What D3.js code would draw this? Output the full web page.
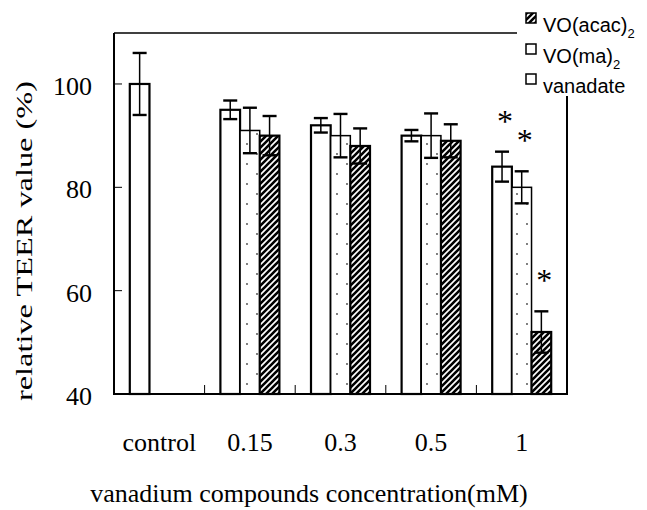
<!DOCTYPE html>
<html>
<head>
<meta charset="utf-8">
<script src="https://cdn.jsdelivr.net/npm/d3@7"></script>
<style>
  body { margin: 0; background: #fff; }
  svg { display: block; }
</style>
</head>
<body>
<svg id="chart" width="647" height="510"></svg>
<script>
// data
const categories = ['control', '0.15', '0.3', '0.5', '1'];
const seriesNames = ['vanadate', 'VO(ma)2', 'VO(acac)2'];
const vanadate = [100, 95, 92, 90, 84];
const vanadateErr = [6, 1.8, 1.4, 1.1, 2.9];
const voMa = [null, 91, 90, 90, 80];
const voMaErr = [null, 4.4, 4.2, 4.3, 3.1];
const voAcac = [null, 90, 88, 89, 52];
const voAcacErr = [null, 3.8, 3.4, 3.2, 4];
const significant = [['1', 'vanadate'], ['1', 'VO(ma)2'], ['1', 'VO(acac)2']];
const yTicks = [40, 60, 80, 100];
const legendOrder = ['VO(acac)2', 'VO(ma)2', 'vanadate'];

const svg = d3.select('#chart');
const plot = { left: 114, right: 567, top: 33, bottom: 394 };
const serif = "'Liberation Serif', 'Times New Roman', serif";
const sans = "'Liberation Sans', Arial, sans-serif";

const values = { vanadate, 'VO(ma)2': voMa, 'VO(acac)2': voAcac };
const errors = { vanadate: vanadateErr, 'VO(ma)2': voMaErr, 'VO(acac)2': voAcacErr };

const rows = [];
seriesNames.forEach((s) => {
  categories.forEach((c, i) => {
    if (values[s][i] != null) rows.push({ cat: c, series: s, value: values[s][i], err: errors[s][i] });
  });
});

const x = d3.scaleBand().domain(categories).range([plot.left, plot.right]);
const groupW = 59;
const pad = (x.bandwidth() - groupW) / 2;
const xs = d3.scaleBand().domain(seriesNames).range([pad, pad + groupW]);
const y = d3.scaleLinear().domain([40, 110]).range([plot.bottom, 32.3]);

// patterns
const defs = svg.append('defs');
const hatch = defs.append('pattern')
  .attr('id', 'hatch')
  .attr('patternUnits', 'userSpaceOnUse')
  .attr('width', 6)
  .attr('height', 6);
hatch.append('rect').attr('width', 6).attr('height', 6).attr('fill', '#fff');
hatch.append('path')
  .attr('d', 'M-1,1 l2,-2 M0,6 l6,-6 M5,7 l2,-2')
  .attr('stroke', '#000')
  .attr('stroke-width', 2.6);

const dots = defs.append('pattern')
  .attr('id', 'dots')
  .attr('patternUnits', 'userSpaceOnUse')
  .attr('width', 20)
  .attr('height', 20);
dots.append('rect').attr('width', 20).attr('height', 20).attr('fill', '#fff');
dots.append('circle').attr('cx', 7).attr('cy', 4).attr('r', 0.9).attr('fill', '#444');
dots.append('circle').attr('cx', 17).attr('cy', 14).attr('r', 0.9).attr('fill', '#444');

const fills = { vanadate: '#fff', 'VO(ma)2': 'url(#dots)', 'VO(acac)2': 'url(#hatch)' };

// bars
svg.append('g')
  .selectAll('rect')
  .data(rows)
  .join('rect')
  .attr('x', (d) => x(d.cat) + xs(d.series))
  .attr('y', (d) => y(d.value))
  .attr('width', xs.bandwidth())
  .attr('height', (d) => y(40) - y(d.value))
  .attr('fill', (d) => fills[d.series])
  .attr('stroke', '#000')
  .attr('stroke-width', (d) => (d.series === 'VO(ma)2' ? 1.5 : 2.2));

// error bars
const eb = svg.append('g').attr('stroke', '#000');
const cx = (d) => x(d.cat) + xs(d.series) + xs.bandwidth() / 2;
eb.selectAll('line.v')
  .data(rows)
  .join('line')
  .attr('class', 'v')
  .attr('x1', cx)
  .attr('x2', cx)
  .attr('y1', (d) => y(d.value + d.err))
  .attr('y2', (d) => y(d.value - d.err))
  .attr('stroke-width', 1.5);
['top', 'bot'].forEach((k) => {
  eb.selectAll(`line.${k}`)
    .data(rows)
    .join('line')
    .attr('class', k)
    .attr('x1', (d) => cx(d) - 7)
    .attr('x2', (d) => cx(d) + 7)
    .attr('y1', (d) => y(k === 'top' ? d.value + d.err : d.value - d.err))
    .attr('y2', (d) => y(k === 'top' ? d.value + d.err : d.value - d.err))
    .attr('stroke-width', 2.4);
});

// asterisks
svg.append('g')
  .selectAll('text')
  .data(significant.map(([c, s]) => rows.find((r) => r.cat === c && r.series === s)))
  .join('text')
  .attr('x', (d) => cx(d) + 3)
  .attr('y', (d) => y(d.value + d.err) - 20)
  .attr('text-anchor', 'middle')
  .attr('font-family', serif)
  .attr('font-size', 32)
  .text('*');

// frame
const frame = svg.append('g').attr('stroke', '#000').attr('fill', 'none');
frame.append('line')
  .attr('x1', plot.left).attr('x2', plot.left)
  .attr('y1', plot.top).attr('y2', plot.bottom)
  .attr('stroke-width', 2);
frame.append('line')
  .attr('x1', plot.left - 1).attr('x2', plot.right + 1)
  .attr('y1', plot.bottom).attr('y2', plot.bottom)
  .attr('stroke-width', 2);
frame.append('line')
  .attr('x1', plot.left).attr('x2', 517)
  .attr('y1', plot.top).attr('y2', plot.top)
  .attr('stroke-width', 1.5);
frame.append('line')
  .attr('x1', plot.right).attr('x2', plot.right)
  .attr('y1', 96).attr('y2', plot.bottom)
  .attr('stroke-width', 2);

// y ticks (inward) and labels
frame.selectAll('line.yt')
  .data(yTicks.filter((t) => t > 40))
  .join('line')
  .attr('class', 'yt')
  .attr('x1', plot.left).attr('x2', plot.left + 8)
  .attr('y1', (d) => y(d)).attr('y2', (d) => y(d))
  .attr('stroke-width', 1);
svg.append('g')
  .selectAll('text')
  .data(yTicks)
  .join('text')
  .attr('x', 92)
  .attr('y', (d) => y(d) + 11)
  .attr('text-anchor', 'end')
  .attr('font-family', serif)
  .attr('font-size', 26)
  .text((d) => d);

// x ticks (upward) at category boundaries and labels
frame.selectAll('line.xt')
  .data(categories.slice(1))
  .join('line')
  .attr('class', 'xt')
  .attr('x1', (d) => x(d)).attr('x2', (d) => x(d))
  .attr('y1', plot.bottom).attr('y2', plot.bottom - 9)
  .attr('stroke-width', 1);
svg.append('g')
  .selectAll('text')
  .data(categories)
  .join('text')
  .attr('x', (d) => x(d) + x.bandwidth() / 2)
  .attr('y', 451)
  .attr('text-anchor', 'middle')
  .attr('font-family', serif)
  .attr('font-size', 26)
  .text((d) => d);

// axis titles
svg.append('text')
  .attr('x', 309)
  .attr('y', 502)
  .attr('text-anchor', 'middle')
  .attr('font-family', serif)
  .attr('font-size', 26)
  .text('vanadium compounds concentration(mM)');

svg.append('text')
  .attr('transform', 'translate(32, 241) rotate(-90)')
  .attr('text-anchor', 'middle')
  .attr('font-family', serif)
  .attr('font-size', 24)
  .attr('textLength', 320)
  .attr('lengthAdjust', 'spacingAndGlyphs')
  .text('relative TEER value (%)');

// legend
const lg = svg.append('g');
const legendBase = [32, 63, 93];
legendOrder.forEach((s, i) => {
  lg.append('rect')
    .attr('x', 526)
    .attr('y', legendBase[i] - 19)
    .attr('width', 10)
    .attr('height', 10)
    .attr('fill', fills[s])
    .attr('stroke', '#000')
    .attr('stroke-width', 1.5);
  const t = lg.append('text')
    .attr('x', 543)
    .attr('y', legendBase[i])
    .attr('font-family', sans)
    .attr('font-size', 20);
  if (s.endsWith('2')) {
    t.append('tspan').text(s.slice(0, -1));
    t.append('tspan').attr('dy', 6).attr('font-size', 13).text('2');
  } else {
    t.text(s);
  }
});
</script>
</body>
</html>
